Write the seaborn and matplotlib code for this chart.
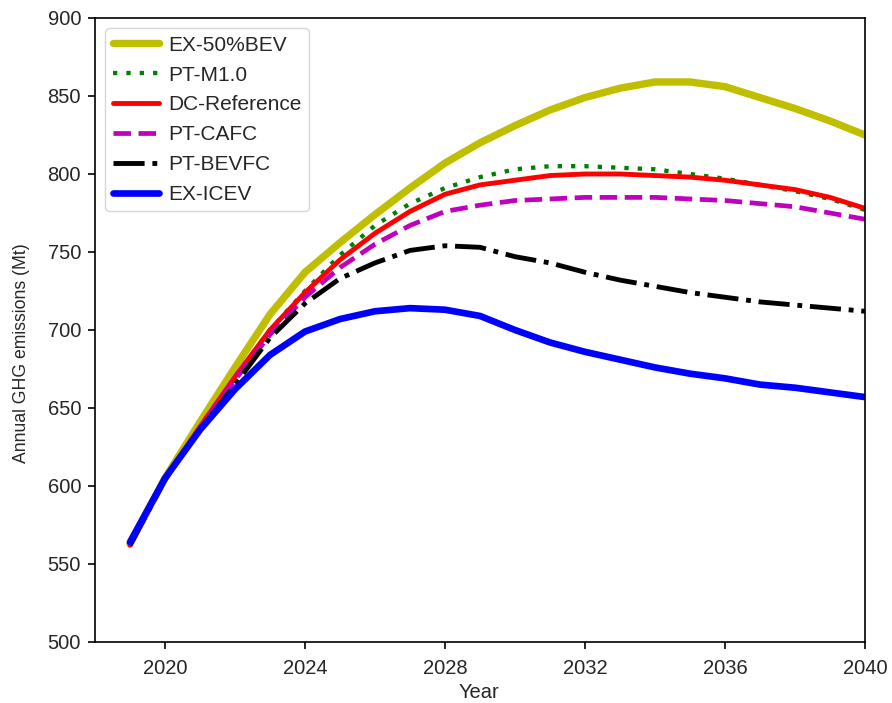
import matplotlib
matplotlib.use("Agg")
import matplotlib.pyplot as plt
import seaborn as sns
import pandas as pd

years = list(range(2019, 2041))

ex_50bev = [563, 605, 641, 676, 710, 737, 756, 774, 791, 807, 820, 831, 841, 849, 855, 859, 859, 856, 849, 842, 834, 825]
pt_m10 = [562, 605, 638, 670, 700, 725, 748, 767, 781, 791, 798, 803, 805, 805, 804, 803, 800, 797, 793, 789, 784, 777]
dc_reference = [562, 605, 638, 670, 700, 724, 745, 762, 776, 787, 793, 796, 799, 800, 800, 799, 798, 796, 793, 790, 785, 778]
pt_cafc = [562, 604, 637, 668, 697, 721, 740, 755, 767, 776, 780, 783, 784, 785, 785, 785, 784, 783, 781, 779, 775, 771]
pt_bevfc = [562, 604, 636, 665, 695, 717, 733, 743, 751, 754, 753, 747, 743, 737, 732, 728, 724, 721, 718, 716, 714, 712]
ex_icev = [564, 605, 636, 662, 684, 699, 707, 712, 714, 713, 709, 700, 692, 686, 681, 676, 672, 669, 665, 663, 660, 657]

# (label, values, colour, dash pattern, line width)
series = [
    ("EX-50%BEV", ex_50bev, "#bfbf00", None, 5.3),
    ("PT-M1.0", pt_m10, "#008000", (1, 2.1), 3.1),
    ("DC-Reference", dc_reference, "#ff0000", None, 3.5),
    ("PT-CAFC", pt_cafc, "#bf00bf", (3.7, 1.6), 3.4),
    ("PT-BEVFC", pt_bevfc, "#000000", (6.4, 1.6, 1, 1.6), 3.5),
    ("EX-ICEV", ex_icev, "#0000ff", None, 4.8),
]

sns.set_style("ticks")
plt.rcParams["font.family"] = ["Liberation Sans", "DejaVu Sans"]

fig = plt.figure(figsize=(8.92, 7.03), dpi=100)
ax = fig.add_axes([0.1065, 0.0868, 0.8632, 0.8876])

for name, vals, color, dashes, lw in series:
    df = pd.DataFrame({"Year": years, "Emissions": vals})
    sns.lineplot(data=df, x="Year", y="Emissions", ax=ax,
                 color=color, linewidth=lw, label=name)
    if dashes is not None:
        ax.get_lines()[-1].set_dashes(dashes)

ax.set_xlim(2018, 2040)
ax.set_ylim(500, 900)
ax.set_xticks([2020, 2024, 2028, 2032, 2036, 2040])
ax.set_yticks(range(500, 901, 50))
ax.tick_params(axis="both", direction="out", length=5, width=1.2, labelsize=14.5, color="black")
ax.tick_params(axis="x", pad=7)
ax.tick_params(axis="y", pad=5)
for s in ax.spines.values():
    s.set_linewidth(1.2)
    s.set_color("black")

ax.set_xlabel("Year", fontsize=14.5)
ax.xaxis.set_label_coords(0.499, -0.0665)
ax.set_ylabel("Annual GHG emissions (Mt)", fontsize=12.7)
ax.yaxis.set_label_coords(-0.084, 0.463)

leg = ax.legend(loc="upper left", fontsize=15, handlelength=2.2, labelspacing=0.52,
                handletextpad=0.45, borderpad=0.35, borderaxespad=0.5,
                frameon=True, fancybox=True)
leg.get_frame().set_edgecolor("#cccccc")
leg.get_frame().set_linewidth(1.0)

fig.savefig("out.png", dpi=100)
